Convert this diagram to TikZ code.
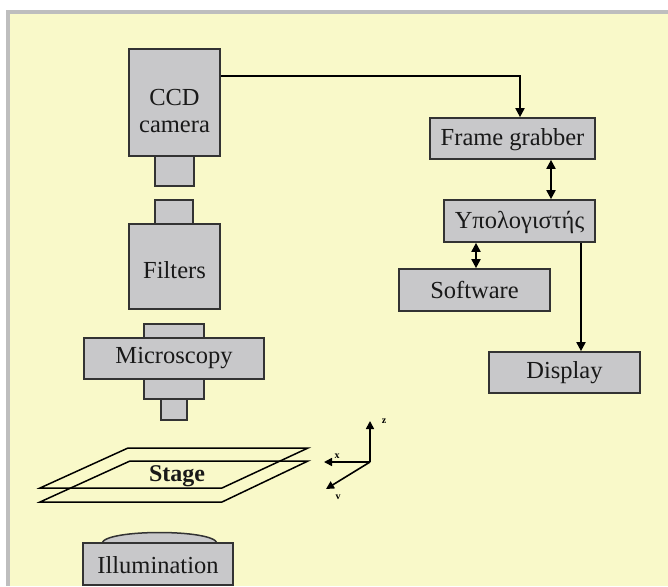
\documentclass[tikz,border=0pt]{standalone}
\usepackage{fontspec}
\setmainfont{Liberation Serif}
\usetikzlibrary{arrows.meta}
\definecolor{paper}{HTML}{F9F9C9}
\definecolor{frame}{HTML}{BEBEBE}
\definecolor{boxfill}{HTML}{C8C8CA}
\definecolor{edge}{HTML}{333333}
\tikzset{
  part/.style={draw=edge, fill=boxfill, line width=1.7pt, rectangle, inner sep=0pt},
  lbl/.style={font=\fontsize{24.5}{27}\selectfont, text=black!90, align=center, inner sep=0pt},
  link/.style={draw=black, line width=1.9pt},
  tip/.style={-{Triangle[length=9pt,width=9pt]}},
  tips/.style={{Triangle[length=9pt,width=9pt]}-{Triangle[length=9pt,width=9pt]}},
  axis/.style={draw=black, line width=1.6pt, -{Triangle[length=8pt,width=8pt]}},
  axlbl/.style={font=\bfseries\fontsize{10}{11}\selectfont, inner sep=0pt},
  plate/.style={draw=black, line width=1.5pt}
}
\begin{document}
\begin{tikzpicture}[x=1pt,y=-1pt]
\useasboundingbox (0,0) rectangle (668,586);
% page background with grey frame on top and left
\fill[frame] (6,10) rectangle (668,586);
\fill[paper] (10,14) rectangle (668,586);

% ---- optical column ----
\node[part, minimum width=91pt, minimum height=107pt] (ccd) at (174.5,102.5) {};
\node[lbl] (ccdtxt) at (174.5,111) {CCD\\camera};
\node[part, minimum width=39pt, minimum height=30pt] (ccdlens) at (174.5,171) {};

\node[part, minimum width=38pt, minimum height=24pt] (filtop) at (174,212) {};
\node[part, minimum width=91pt, minimum height=85pt] (filters) at (174.5,266.5) {};
\node[lbl] (filtxt) at (174.5,270) {Filters};

\node[part, minimum width=60pt, minimum height=14pt] (mictop) at (174,331) {};
\node[part, minimum width=60pt, minimum height=20pt] (micbot) at (174,389) {};
\node[part, minimum width=180pt, minimum height=41pt] (mic) at (174,358.5) {};
\node[lbl] (mictxt) at (174,358) {Microscopy};
\node[part, minimum width=26pt, minimum height=21pt] (objective) at (174,409.5) {};

% ---- stage plates ----
\draw[plate] (40,502) -- (130,461) -- (308,461) -- (222,502) -- cycle;
\draw[plate] (40,488) -- (128,448) -- (308,448) -- (222,488) -- cycle;
\node[lbl, font=\bfseries\fontsize{24}{26}\selectfont] (stage) at (177,476) {Stage};

% ---- axes ----
\coordinate (o) at (370,462);
\coordinate (zend) at (370,421);
\coordinate (xend) at (324,462);
\coordinate (yend) at (326,489);
\draw[axis] (o) -- (zend);
\draw[axis] (o) -- (xend);
\draw[axis] (o) -- (yend);
\node[axlbl] (zl) at (384,421) {z};
\node[axlbl] (xl) at (337,456) {x};
\node[axlbl] (yl) at (338,497) {v};

% ---- illumination ----
\draw[draw=edge, fill=boxfill, line width=1.5pt] (102,543) .. controls (106,529) and (213,529) .. (217,543);
\node[part, minimum width=150pt, minimum height=42pt] (illum) at (158,564) {};
\node[lbl] (illtxt) at (158,565) {Illumination};

% ---- processing chain ----
\node[part, minimum width=165pt, minimum height=41pt] (fg) at (512.5,138.5) {};
\node[lbl] (fgtxt) at (512.5,140) {Frame grabber};
\node[part, minimum width=151pt, minimum height=42pt] (pc) at (519.5,221) {};
\node[lbl] (pctxt) at (519.5,222) {Υπολογιστής};
\node[part, minimum width=151pt, minimum height=42pt] (sw) at (474.5,290) {};
\node[lbl] (swtxt) at (474.5,290) {Software};
\node[part, minimum width=151pt, minimum height=41pt] (disp) at (564.5,372.5) {};
\node[lbl] (disptxt) at (564.5,373) {Display};

% ---- connectors ----
\coordinate (camout) at ([yshift=-28pt]ccd.north east);
\coordinate (fgin) at ([xshift=7.5pt]fg.north);
\draw[link, tip] (camout) -| (fgin);
\draw[link, tips] ([xshift=38.5pt]fg.south) -- ([xshift=31.5pt]pc.north);
\draw[link, tips] ([xshift=1.5pt]sw.north) -- ([xshift=-43.5pt]pc.south);
\draw[link, tip] ([xshift=61.5pt]pc.south) -- ([xshift=16.5pt]disp.north);
\end{tikzpicture}
\end{document}
